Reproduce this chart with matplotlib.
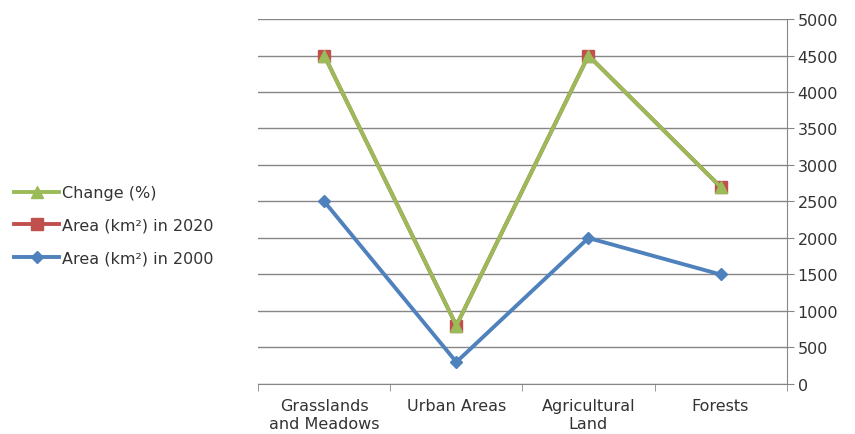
import numpy as np
import matplotlib
matplotlib.use("Agg")
import matplotlib.pyplot as plt

# values (plotted positions)
categories = ["Grasslands\nand Meadows", "Urban Areas", "Agricultural\nLand", "Forests"]
area_2000 = [2500, 300, 2000, 1500]
area_2020 = [4500, 800, 4500, 2700]
change_pct = [4500, 800, 4500, 2700]
y_ticks = np.arange(0, 5001, 500)

plt.rcParams['font.family'] = ['DejaVu Sans']
text_col = '#333333'
grid_col = '#868686'
fs = 11.5

fig = plt.figure(figsize=(8.55, 4.35), dpi=100)
ax = fig.add_axes([0.302, 0.115, 0.618, 0.839])

x = np.arange(len(categories))
l1, = ax.plot(x, area_2000, color='#4F81BD', lw=2.8, marker='D', ms=6, zorder=3,
              label='Area (km²) in 2000')
l2, = ax.plot(x, area_2020, color='#C0504D', lw=2.8, marker='s', ms=8, zorder=4,
              label='Area (km²) in 2020')
l3, = ax.plot(x, change_pct, color='#9BBB59', lw=2.8, marker='^', ms=8, zorder=5,
              label='Change (%)')

ax.set_xlim(-0.5, len(categories) - 0.5)
ax.set_ylim(0, 5000)
ax.set_yticks(y_ticks)
ax.yaxis.tick_right()
ax.grid(axis='y', color=grid_col, lw=1)
ax.set_axisbelow(True)

ax.set_xticks(x)
ax.set_xticklabels(categories, fontsize=fs, color=text_col, linespacing=1.3)
ax.set_xticks(np.arange(-0.5, len(categories)), minor=True)
ax.tick_params(axis='x', which='major', length=0, pad=10)
ax.tick_params(axis='x', which='minor', length=5, color=grid_col)
ax.tick_params(axis='y', length=5, color=grid_col, labelsize=fs, labelcolor=text_col, pad=3)

for s in ['top', 'left']:
    ax.spines[s].set_visible(False)
for s in ['bottom', 'right']:
    ax.spines[s].set_color(grid_col)

fig.legend(handles=[l3, l2, l1], loc='center left', bbox_to_anchor=(0.0, 0.48),
           frameon=False, fontsize=fs, handlelength=2.8, labelspacing=1.1,
           labelcolor=text_col, borderaxespad=0.5, handletextpad=0.2)

fig.savefig("out.png", dpi=100)
